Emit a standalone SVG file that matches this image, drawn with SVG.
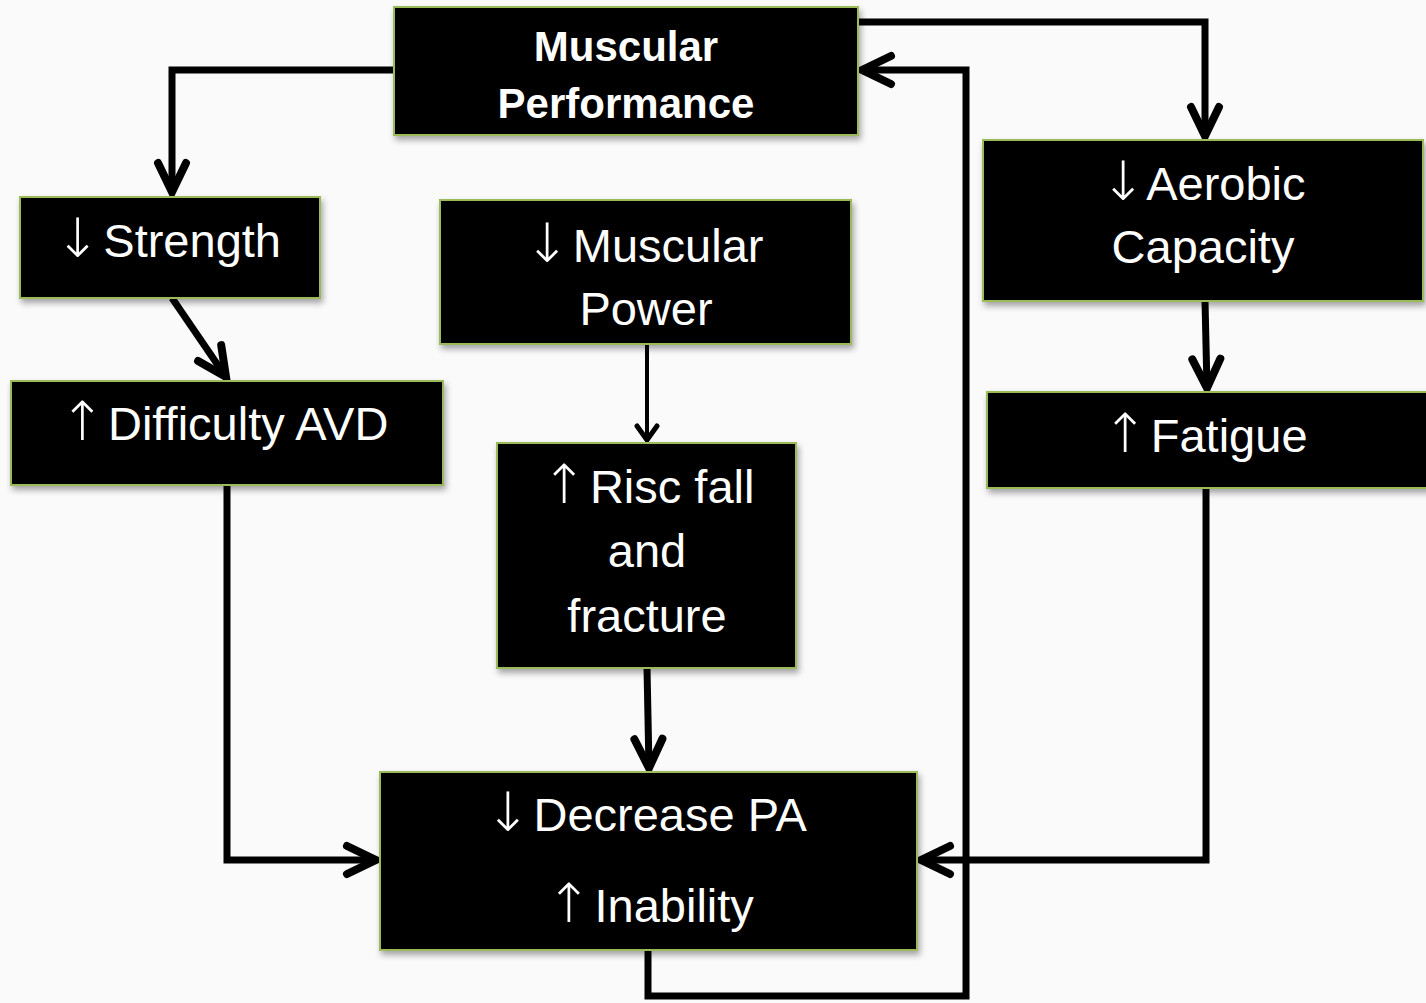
<svg xmlns="http://www.w3.org/2000/svg" width="1426" height="1003" viewBox="0 0 1426 1003">
<defs>
<filter id="sh" x="-10%" y="-10%" width="120%" height="130%">
<feDropShadow dx="2" dy="4" stdDeviation="3" flood-color="#000" flood-opacity="0.35"/>
</filter>
<marker id="ah" markerUnits="userSpaceOnUse" viewBox="-36 -20 42 40" refX="0" refY="0" markerWidth="42" markerHeight="40" orient="auto">
<path d="M-29,-14 L0,0 L-29,14" fill="none" stroke="#000" stroke-width="8" stroke-linecap="round" stroke-linejoin="miter"/>
</marker>
<marker id="ahs" markerUnits="userSpaceOnUse" viewBox="-20 -14 24 28" refX="0" refY="0" markerWidth="24" markerHeight="28" orient="auto">
<path d="M-14,-10 L0,0 L-14,10" fill="none" stroke="#000" stroke-width="5" stroke-linecap="round" stroke-linejoin="miter"/>
</marker>
</defs>
<style>
.box{fill:#000;stroke:#9bbb59;stroke-width:2;filter:url(#sh)}
.t{font-family:"Liberation Sans",Arial,sans-serif;font-size:47px;fill:#fff;text-anchor:middle}
.b{font-family:"Liberation Sans",Arial,sans-serif;font-size:42px;font-weight:bold;fill:#fff;text-anchor:middle}
.ar{font-family:"DejaVu Sans",sans-serif;font-size:54px;font-weight:200;letter-spacing:-10px}
.c{fill:none;stroke:#000;stroke-width:7;stroke-linejoin:miter}
</style>
<rect width="1426" height="1003" fill="#fafafa"/>
<g id="connectors">
<path class="c" d="M394,70 H172 V192" marker-end="url(#ah)"/>
<path class="c" d="M858,22 H1205 V136" marker-end="url(#ah)"/>
<path class="c" d="M172,298 L226,377" marker-end="url(#ah)"/>
<path class="c" d="M647,344 V440" style="stroke-width:4" marker-end="url(#ahs)"/>
<path class="c" d="M1205,301 L1207,388" marker-end="url(#ah)"/>
<path class="c" d="M647,668 L649,768" marker-end="url(#ah)"/>
<path class="c" d="M227,485 V860 H376" marker-end="url(#ah)"/>
<path class="c" d="M1206,488 V860 H921" marker-end="url(#ah)"/>
<path class="c" d="M648,950 V996 H966 V70 H862" marker-end="url(#ah)"/>
</g>
<g id="muscular-performance">
<rect class="box" x="394" y="7" width="464" height="128"/>
<text class="b" x="626" y="61">Muscular</text>
<text class="b" x="626" y="118">Performance</text>
</g>
<g id="strength">
<rect class="box" x="20" y="197" width="300" height="101"/>
<text class="t" x="168" y="257"><tspan class="ar">↓</tspan> Strength</text>
</g>
<g id="difficulty-avd">
<rect class="box" x="11" y="381" width="432" height="104"/>
<text class="t" x="224" y="440"><tspan class="ar">↑</tspan> Difficulty AVD</text>
</g>
<g id="muscular-power">
<rect class="box" x="440" y="200" width="411" height="144"/>
<text class="t" x="644" y="262"><tspan class="ar">↓</tspan> Muscular</text>
<text class="t" x="646" y="325">Power</text>
</g>
<g id="risc-fall">
<rect class="box" x="497" y="443" width="299" height="225"/>
<text class="t" x="648" y="503"><tspan class="ar">↑</tspan> Risc fall</text>
<text class="t" x="647" y="567">and</text>
<text class="t" x="647" y="632">fracture</text>
</g>
<g id="aerobic-capacity">
<rect class="box" x="983" y="140" width="440" height="161"/>
<text class="t" x="1203" y="200"><tspan class="ar">↓</tspan> Aerobic</text>
<text class="t" x="1203" y="263">Capacity</text>
</g>
<g id="fatigue">
<rect class="box" x="987" y="392" width="445" height="96"/>
<text class="t" x="1205" y="452"><tspan class="ar">↑</tspan> Fatigue</text>
</g>
<g id="decrease-pa">
<rect class="box" x="380" y="772" width="537" height="178"/>
<text class="t" x="646" y="831"><tspan class="ar">↓</tspan> Decrease PA</text>
<text class="t" x="650" y="922"><tspan class="ar">↑</tspan> Inability</text>
</g>
</svg>
